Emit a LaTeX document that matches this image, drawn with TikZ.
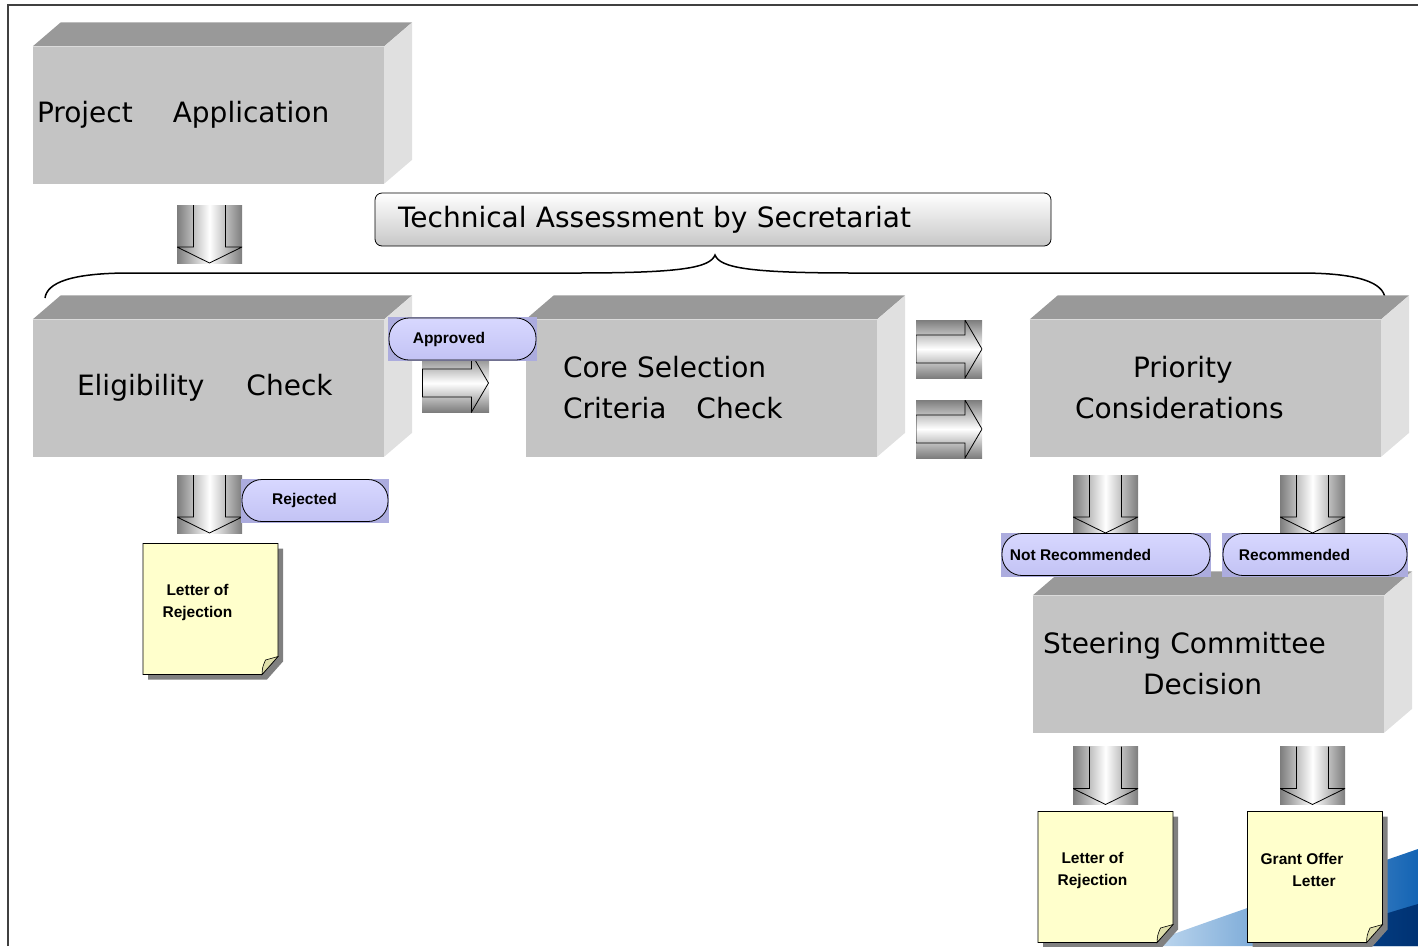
\documentclass[tikz,border=0pt]{standalone}
\usepackage{fontspec}
\newfontfamily\boxfont{DejaVu Sans}
\newfontfamily\tagfont{Liberation Sans}
\definecolor{facefront}{RGB}{196,196,196}
\definecolor{facetop}{RGB}{153,153,153}
\definecolor{faceside}{RGB}{224,224,224}
\definecolor{arrowgray}{RGB}{125,125,125}
\definecolor{pillback}{RGB}{172,172,222}
\definecolor{pilltop}{RGB}{216,216,255}
\definecolor{pillbot}{RGB}{194,194,244}
\definecolor{cardfill}{RGB}{255,255,204}
\definecolor{cardfold}{RGB}{222,222,170}
\definecolor{cardshadow}{RGB}{128,128,128}
\definecolor{swooshlight}{RGB}{200,222,242}
\definecolor{swooshblue}{RGB}{20,100,180}
\definecolor{swooshdark}{RGB}{0,50,115}
\tikzset{
  block/.style={fill=facefront, minimum height=137pt, inner xsep=4pt, inner ysep=0pt,
    text width=343pt, align=left, font=\boxfont\fontsize{28}{41}\selectfont},
  techbox/.style={draw, line width=0.8pt, rounded corners=7pt, top color=white, bottom color=black!22,
    minimum height=53pt, text width=630pt, inner xsep=23pt, align=left,
    font=\boxfont\fontsize{28}{34}\selectfont},
  darrow/.style={minimum width=65pt, minimum height=58pt, inner sep=0pt,
    left color=arrowgray, right color=arrowgray, middle color=white,
    path picture={\draw[line width=0.8pt, shift={(path picture bounding box.center)}]
      (-16,-29) -- (-16,13) -- (-32.5,13) -- (0,29) -- (32.5,13) -- (16,13) -- (16,-29);}},
  rarrow/.style={minimum width=66pt, minimum height=58pt, inner sep=0pt,
    top color=arrowgray, bottom color=arrowgray, middle color=white,
    path picture={\draw[line width=0.8pt, shift={(path picture bounding box.center)}]
      (-33,-14) -- (16,-14) -- (16,-29) -- (33,0) -- (16,29) -- (16,14) -- (-33,14) -- cycle;}},
  pill/.style={fill=pillback, minimum height=44pt, inner sep=0pt,
    font=\tagfont\bfseries\fontsize{15.5}{18}\selectfont,
    path picture={\draw[line width=0.8pt, top color=pilltop, bottom color=pillbot, rounded corners=20pt]
      ([shift={(1,1)}]path picture bounding box.north west) rectangle
      ([shift={(-1,-1)}]path picture bounding box.south east);}},
  cardtext/.style={align=center, inner sep=0pt, font=\tagfont\bfseries\fontsize{15.5}{22}\selectfont},
  bracket/.style={line width=1.5pt}
}
\newcommand{\blockfaces}[1]{%
  \fill[facetop] (#1.north west) -- ++(28,-24) -- ([shift={(28,-24)}]#1.north east) -- (#1.north east) -- cycle;
  \fill[faceside] (#1.north east) -- ++(28,-24) -- ([shift={(28,-24)}]#1.south east) -- (#1.south east) -- cycle;}
\newcommand{\lettercard}[4]{%
  \begin{scope}[shift={(#2,#3)}]
    \fill[cardshadow] (-62.5,-60.5) -- (72.5,-60.5) -- (72.5,52.5) -- (56.5,70.5) -- (-62.5,70.5) -- cycle;
    \filldraw[fill=cardfill, line width=0.8pt] (-67.5,-65.5) -- (67.5,-65.5) -- (67.5,47.5) -- (51.5,65.5) -- (-67.5,65.5) -- cycle;
    \filldraw[fill=cardfold, line width=0.6pt] (51.5,65.5) .. controls (52,58) .. (55,51) -- (67.5,47.5) -- cycle;
  \end{scope}
  \node[cardtext] (#1) at (#2-13,#3-7) {#4};}
\begin{document}
\begin{tikzpicture}[x=1pt,y=-1pt]
\useasboundingbox (0,0) rectangle (1418,946);
\shade[left color=swooshlight, right color=swooshblue] (1140,946) .. controls (1240,910) and (1340,876) .. (1418,849) -- (1418,946) -- cycle;
\shade[left color=swooshblue!60!swooshdark, right color=swooshdark] (1280,946) .. controls (1335,930) and (1380,915) .. (1418,904) -- (1418,946) -- cycle;
\draw[line width=1.6pt, black!75] (8,946) -- (8,5) -- (1418,5);

\node[block] (app) at (208.5,115) {Project\hspace{40pt}Application};
\blockfaces{app}
\node[darrow] (a1) at (209.5,234) {};

\node[techbox] (tech) at (713,219.5) {Technical Assessment by Secretariat};
\draw[bracket] (45,298) .. controls (47,283) and (70,273) .. (130,273) -- (575,273)
  .. controls (680,273) and (710,268) .. (715,255) .. controls (720,268) and (750,273) .. (855,273)
  -- (1300,273) .. controls (1360,273) and (1383,283) .. (1385,298);

\node[block] (elig) at (208.5,388) {\hspace*{40pt}Eligibility\hspace{42pt}Check};
\blockfaces{elig}
\node[block] (core) at (701.5,388) {\hspace*{33pt}Core Selection\\\hspace*{33pt}Criteria\hspace{30pt}Check};
\blockfaces{core}
\node[block] (prio) at (1205.5,388) {\hspace*{99pt}Priority\\\hspace*{41pt}Considerations};
\blockfaces{prio}

\node[rarrow, minimum width=67pt] (a2) at (455.5,383) {};
\node[pill, minimum width=149pt] (approved) at (462.5,339) {Approved\hspace*{27pt}};
\node[rarrow] (a3) at (949,349) {};
\node[rarrow] (a4) at (949,429) {};

\node[darrow] (a5) at (209.5,504) {};
\node[pill, minimum width=148pt] (rejected) at (315,500.5) {Rejected\hspace*{21pt}};
\lettercard{rejA}{210.5}{609}{Letter of\\Rejection}

\node[darrow] (a6) at (1105.5,504) {};
\node[darrow] (a7) at (1312.5,504) {};
\node[block] (steer) at (1208.5,664) {\hspace*{6pt}Steering Committee\\\hspace*{106pt}Decision};
\blockfaces{steer}
\node[pill, minimum width=210pt] (notrec) at (1106,554.5) {Not Recommended\hspace*{51pt}};
\node[pill, minimum width=186pt] (rec) at (1315,554.5) {Recommended\hspace*{41pt}};

\node[darrow] (a8) at (1105.5,775.5) {};
\node[darrow] (a9) at (1312.5,775.5) {};
\lettercard{rejB}{1105.5}{877}{Letter of\\Rejection}
\lettercard{grant}{1315}{877}{Grant Offer\\\hspace*{24pt}Letter}
\end{tikzpicture}
\end{document}
